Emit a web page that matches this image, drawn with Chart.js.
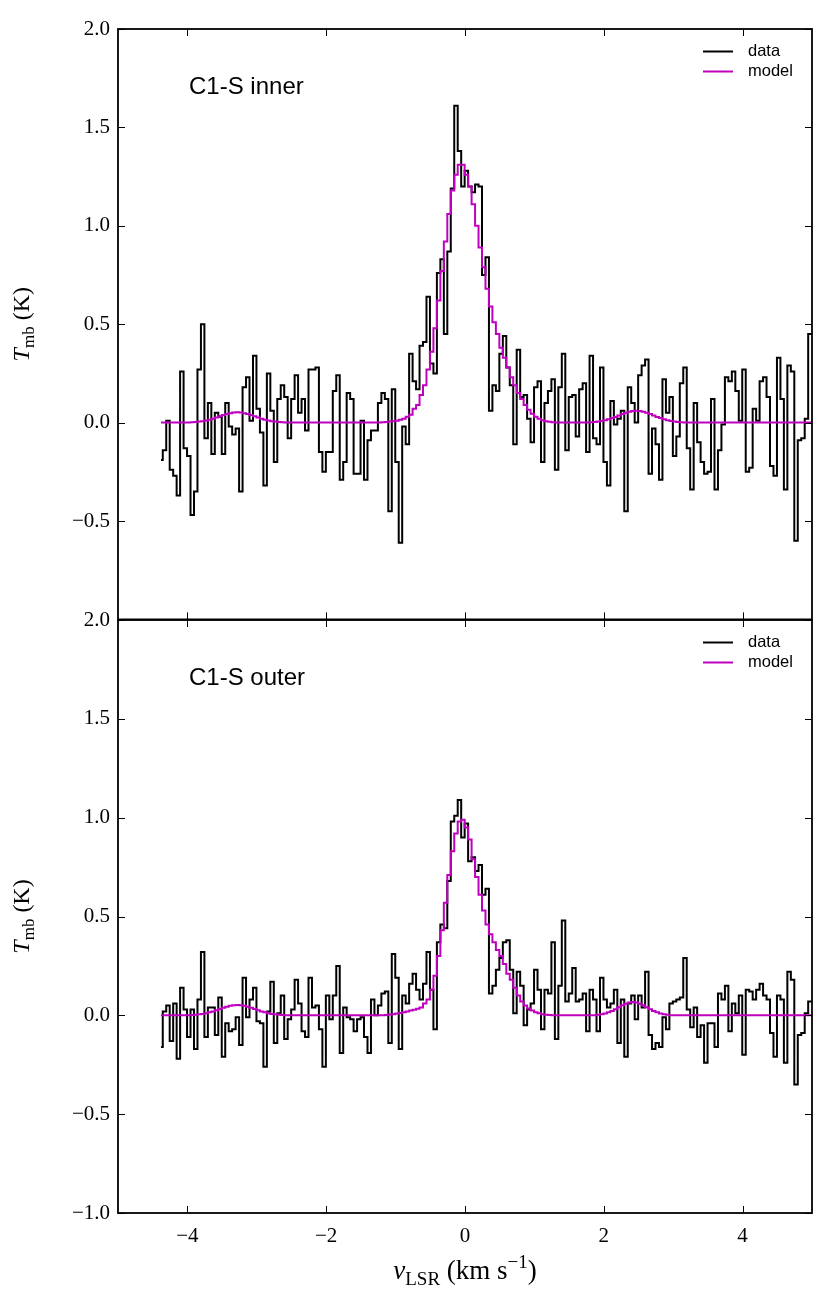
<!DOCTYPE html>
<html><head><meta charset="utf-8">
<script src="https://cdn.jsdelivr.net/npm/chart.js@4.4.1/dist/chart.umd.min.js"></script>
<style>
html,body{margin:0;padding:0;background:#fff;}
#wrap{position:relative;width:829px;height:1303px;overflow:hidden;background:#fff;}
canvas{position:absolute;left:0;}
</style></head><body>
<div id="wrap">
<canvas id="cTop" width="829" height="640" style="top:0;width:829px;height:640px"></canvas>
<canvas id="cBot" width="829" height="723" style="top:580px;width:829px;height:723px"></canvas>
</div>
<script>
// channel grid of the spectra (km/s)
const V0 = -4.38;
const DV = 0.05;
const X_TICKS = [-4, -2, 0, 2, 4];
const Y_TICKS = [-1, -0.5, 0, 0.5, 1, 1.5, 2];
const PANEL_LABELS = ['C1-S inner', 'C1-S outer'];
const SERIES_NAMES = ['data', 'model'];

const INNER_DATA = [
-0.19,-0.14,0.01,-0.24,-0.27,-0.37,0.26,-0.13,-0.17,-0.47,
-0.35,0.27,0.50,-0.08,0.10,-0.16,0.05,0.03,-0.16,0.10,
-0.02,-0.06,-0.03,-0.35,0.18,0.23,0.01,0.34,0.07,-0.05,
-0.32,0.25,0.06,-0.20,0.12,0.19,0.13,-0.08,0.12,0.24,
0.05,0.12,-0.04,0.27,0.27,0.28,-0.15,-0.25,-0.15,-0.15,
0.16,0.24,-0.29,-0.20,0.15,0.12,-0.26,-0.26,0.01,-0.29,
-0.09,-0.04,-0.04,0.10,0.15,0.12,-0.45,0.17,-0.20,-0.61,
-0.02,-0.11,0.35,0.21,0.17,0.39,0.41,0.64,0.30,0.25,
0.76,0.83,0.45,0.87,1.19,1.61,1.38,1.20,1.28,1.20,
1.17,1.21,1.20,0.75,0.84,0.06,0.19,0.16,0.35,0.44,
0.28,0.19,-0.11,0.37,0.13,0.14,0.02,-0.10,0.18,0.21,
-0.20,0.10,0.16,0.22,-0.24,0.18,0.35,-0.14,0.13,0.14,
-0.07,0.17,0.20,-0.15,0.34,-0.08,-0.11,0.28,-0.20,-0.32,
0.11,-0.01,0.02,0.06,-0.45,0.18,0.10,0.00,0.24,0.29,
0.32,-0.26,-0.03,-0.11,-0.29,0.22,0.05,0.13,-0.17,-0.07,
0.20,0.28,-0.13,-0.34,0.10,-0.10,-0.20,-0.26,-0.25,0.12,
-0.34,-0.14,-0.01,0.23,0.21,0.26,0.16,0.01,0.27,-0.25,
-0.23,0.07,0.01,0.21,0.23,0.13,-0.22,-0.27,0.33,0.12,
-0.34,0.29,0.26,-0.60,-0.09,-0.08,0.02,0.45,0.45
];

const INNER_MODEL = [
0,0,0,0,0,0,0,0.001,0.001,0.002,
0.003,0.005,0.007,0.011,0.015,0.020,0.026,0.032,0.038,0.044,
0.048,0.051,0.052,0.051,0.048,0.044,0.038,0.032,0.026,0.020,
0.015,0.011,0.007,0.005,0.003,0.002,0.001,0.001,0,0,
0,0,0,0,0,0,0,0,0,0,
0,0,0,0,0,0,0,0,0,0,
0,0,0,0.001,0.002,0.003,0.005,0.007,0.010,0.015,
0.02,0.03,0.04,0.07,0.09,0.14,0.19,0.27,0.36,0.48,
0.62,0.77,0.92,1.06,1.18,1.26,1.31,1.31,1.26,1.20,
1.11,1.00,0.89,0.79,0.68,0.59,0.51,0.45,0.38,0.33,
0.28,0.23,0.19,0.15,0.12,0.09,0.065,0.045,0.03,0.02,
0.012,0.007,0.004,0.002,0.001,0,0,0,0,0,
0,0,0,0.001,0.002,0.003,0.005,0.008,0.012,0.017,
0.023,0.029,0.036,0.044,0.050,0.055,0.059,0.060,0.059,0.055,
0.050,0.044,0.036,0.029,0.023,0.017,0.012,0.008,0.005,0.003,
0.002,0.001,0,0,0,0,0,0,0,0,
0,0,0,0,0,0,0,0,0,0,
0,0,0,0,0,0,0,0,0,0,
0,0,0,0,0,0,0,0,0
];

const OUTER_DATA = [
-0.16,0.02,0.05,-0.13,0.06,-0.22,0.14,0.03,-0.11,0.03,
-0.17,0.08,0.32,-0.11,0.04,0.04,-0.10,0.09,-0.21,-0.04,
-0.08,-0.07,-0.01,-0.15,0.19,-0.01,0.08,0.14,-0.03,-0.04,
-0.26,0.02,0.17,-0.14,0.01,0.10,-0.12,-0.02,0.03,0.18,
0.06,-0.08,-0.11,0.19,0.04,0.05,-0.07,-0.26,0.10,-0.02,
0.10,0.25,-0.19,0.04,-0.01,-0.02,-0.08,-0.02,-0.01,-0.11,
-0.19,0.08,0.00,0.05,0.11,0.12,-0.14,0.31,0.19,-0.17,
0.10,0.06,0.16,0.21,0.13,0.08,0.16,0.32,0.13,-0.07,
0.37,0.46,0.44,0.68,0.98,1.01,1.09,0.90,0.97,0.78,
0.80,0.73,0.76,0.61,0.64,0.11,0.15,0.23,0.29,0.37,
0.38,0.23,0.01,0.22,0.15,-0.05,0.03,0.06,0.23,0.13,
-0.07,0.13,0.11,0.37,-0.12,0.15,0.48,0.07,0.11,0.24,
0.07,0.08,0.11,-0.08,0.13,0.08,-0.08,0.19,0.08,0.04,
0.06,0.13,-0.14,0.08,-0.21,0.06,0.10,-0.02,0.10,0.04,
0.22,-0.10,-0.17,-0.14,-0.16,-0.01,-0.07,0.06,0.07,0.08,
0.09,0.29,0.03,-0.06,0.04,-0.11,-0.05,-0.24,-0.04,-0.04,
-0.16,0.11,0.08,0.15,-0.08,0.06,0.01,0.10,-0.20,0.13,
0.12,0.08,0.13,0.16,0.10,0.08,-0.09,-0.21,0.10,0.08,
-0.24,0.22,0.18,-0.35,-0.10,-0.09,0.01,0.07,0.07
];

const OUTER_MODEL = [
0,0,0,0,0,0,0,0.001,0.001,0.002,
0.003,0.005,0.007,0.011,0.015,0.020,0.026,0.032,0.038,0.044,
0.048,0.051,0.052,0.051,0.048,0.044,0.038,0.032,0.026,0.020,
0.015,0.011,0.007,0.005,0.003,0.002,0.001,0.001,0,0,
0,0,0,0,0,0,0,0,0,0,
0,0,0,0,0,0,0,0,0,0,
0,0,0,0,0.001,0.002,0.004,0.006,0.009,0.012,
0.016,0.020,0.024,0.028,0.033,0.040,0.060,0.080,0.13,0.20,
0.30,0.43,0.57,0.71,0.83,0.92,0.98,0.99,0.95,0.89,
0.79,0.70,0.61,0.53,0.46,0.41,0.37,0.33,0.30,0.26,
0.21,0.18,0.14,0.10,0.07,0.05,0.035,0.025,0.015,0.010,
0.006,0.003,0.002,0.001,0,0,0,0,0,0,
0,0,0,0,0,0.001,0.003,0.005,0.009,0.015,
0.022,0.031,0.041,0.051,0.059,0.065,0.067,0.065,0.059,0.051,
0.041,0.031,0.022,0.015,0.009,0.005,0.003,0.001,0,0,
0,0,0,0,0,0,0,0,0,0,
0,0,0,0,0,0,0,0,0,0,
0,0,0,0,0,0,0,0,0,0,
0,0,0,0,0,0,0,0,0
];

const VELOCITY = INNER_DATA.map((_, i) => +(V0 + DV * i).toFixed(3));

const SERIF = '"Liberation Serif", "Times New Roman", serif';
const SANS = '"Liberation Sans", Arial, Helvetica, sans-serif';
const MAGENTA = '#bf00bf';

function minus(s) { return s.replace('-', '\u2212'); }
function fmtY(v) { return minus((Math.abs(v) < 1e-9 ? 0 : v).toFixed(1)); }
function fmtX(v) { return minus(String(Math.round(v))); }

function drawRich(ctx, parts, cx, cy, rotate) {
  ctx.save();
  ctx.translate(cx, cy);
  if (rotate) ctx.rotate(-Math.PI / 2);
  let w = 0;
  parts.forEach(p => { ctx.font = p.font; p.w = ctx.measureText(p.t).width; w += p.w; });
  let x = -w / 2;
  ctx.fillStyle = '#000';
  ctx.textBaseline = 'alphabetic';
  ctx.textAlign = 'left';
  parts.forEach(p => { ctx.font = p.font; ctx.fillText(p.t, x, p.dy); x += p.w; });
  ctx.restore();
}

const framePlugin = {
  id: 'frame',
  afterDatasetsDraw(chart, args, opts) {
    const { ctx, chartArea: a } = chart;
    const xs = chart.scales.x, ys = chart.scales.y;
    ctx.save();
    // inward ticks on all four sides
    ctx.strokeStyle = '#000';
    ctx.lineWidth = 1;
    const T = 7;
    ctx.beginPath();
    X_TICKS.forEach(v => {
      const px = Math.round(xs.getPixelForValue(v)) + 0.5;
      ctx.moveTo(px, a.bottom); ctx.lineTo(px, a.bottom - T);
      ctx.moveTo(px, a.top); ctx.lineTo(px, a.top + T);
    });
    Y_TICKS.forEach(v => {
      const py = Math.round(ys.getPixelForValue(v)) + 0.5;
      ctx.moveTo(a.left, py); ctx.lineTo(a.left + T, py);
      ctx.moveTo(a.right, py); ctx.lineTo(a.right - T, py);
    });
    ctx.stroke();
    // frame
    ctx.lineWidth = 1.8;
    ctx.strokeRect(a.left, a.top, a.right - a.left, a.bottom - a.top);
    // legend
    ctx.textBaseline = 'middle';
    ctx.textAlign = 'left';
    ctx.font = '16.5px ' + SANS;
    chart.data.datasets.forEach((ds, i) => {
      const yy = a.top + 22 + 20 * i;
      ctx.strokeStyle = ds.borderColor;
      ctx.lineWidth = ds.borderWidth;
      ctx.beginPath();
      ctx.moveTo(a.right - 109, yy + 0.5);
      ctx.lineTo(a.right - 79, yy + 0.5);
      ctx.stroke();
      ctx.fillStyle = '#000';
      ctx.fillText(ds.label, a.right - 64, yy);
    });
    // panel label
    ctx.font = '24px ' + SANS;
    ctx.fillStyle = '#000';
    ctx.fillText(opts.label, a.left + 71, a.top + 58);
    ctx.restore();
    // y title
    const big = '24px ' + SERIF, small = '17px ' + SERIF;
    drawRich(ctx, [
      { t: 'T', font: 'italic ' + big, dy: 0 },
      { t: 'mb', font: small, dy: 5 },
      { t: ' (K)', font: big, dy: 0 }
    ], 29, (a.top + a.bottom) / 2, true);
    if (opts.xTitle) {
      const xb = '27px ' + SERIF, xs2 = '19px ' + SERIF;
      drawRich(ctx, [
        { t: 'v', font: 'italic ' + xb, dy: 0 },
        { t: 'LSR', font: xs2, dy: 6 },
        { t: ' (km s', font: xb, dy: 0 },
        { t: '\u22121', font: xs2, dy: -11 },
        { t: ')', font: xb, dy: 0 }
      ], (a.left + a.right) / 2, a.bottom + 66, false);
    }
  }
};

function makeChart(id, dataArr, modelArr, label, bottomPanel) {
  return new Chart(document.getElementById(id), {
    type: 'line',
    data: {
      datasets: [
        { label: SERIES_NAMES[0], data: VELOCITY.map((v, i) => ({ x: v, y: dataArr[i] })),
          borderColor: '#000', borderWidth: 2, pointRadius: 0, stepped: 'middle', fill: false, order: 2 },
        { label: SERIES_NAMES[1], data: VELOCITY.map((v, i) => ({ x: v, y: modelArr[i] })),
          borderColor: MAGENTA, borderWidth: 2, pointRadius: 0, stepped: 'middle', fill: false, order: 1 }
      ]
    },
    options: {
      responsive: false, animation: false, devicePixelRatio: 1,
      layout: { padding: { top: bottomPanel ? 40 : 29, right: 17, left: 0, bottom: 0 } },
      plugins: {
        legend: { display: false }, tooltip: { enabled: false },
        frame: { label: label, xTitle: bottomPanel }
      },
      scales: {
        x: {
          type: 'linear', min: -5, max: 5,
          afterBuildTicks: s => { s.ticks = X_TICKS.map(v => ({ value: v })); },
          afterFit: s => { s.height = bottomPanel ? 90 : 20; },
          grid: { display: false, drawTicks: false }, border: { display: false },
          ticks: { display: bottomPanel, autoSkip: false, maxRotation: 0, padding: 11,
                   color: '#000', font: { family: SERIF, size: 21 }, callback: v => fmtX(v) }
        },
        y: {
          type: 'linear', min: -1, max: 2,
          afterBuildTicks: s => { s.ticks = Y_TICKS.map(v => ({ value: v })); },
          afterFit: s => { s.width = 118; },
          grid: { display: false, drawTicks: false }, border: { display: false },
          ticks: { autoSkip: false, padding: 8, color: '#000', font: { family: SERIF, size: 21 },
                   callback: v => (!bottomPanel && v === -1) ? '' : fmtY(v) }
        }
      }
    },
    plugins: [framePlugin]
  });
}

makeChart('cTop', INNER_DATA, INNER_MODEL, PANEL_LABELS[0], false);
makeChart('cBot', OUTER_DATA, OUTER_MODEL, PANEL_LABELS[1], true);
</script>
</body></html>
